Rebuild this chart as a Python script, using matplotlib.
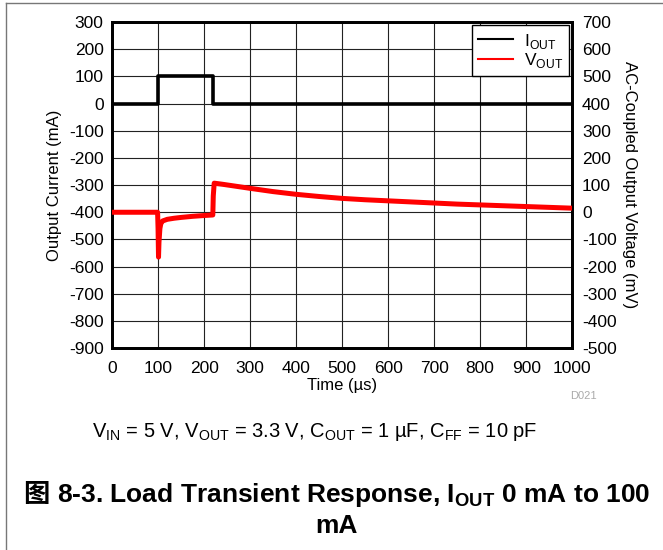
import matplotlib
matplotlib.use('Agg')
import matplotlib.pyplot as plt
from matplotlib.lines import Line2D

plt.rcParams['font.family'] = ['Liberation Sans', 'Noto Sans CJK SC']
plt.rcParams['mathtext.fontset'] = 'custom'
plt.rcParams['mathtext.rm'] = 'Liberation Sans'
plt.rcParams['mathtext.bf'] = 'Liberation Sans:bold'
plt.rcParams['axes.unicode_minus'] = False

# Output current step (mA)
t_iout = [0, 100, 100, 220, 220, 1000]
iout = [0, 0, 100, 100, 0, 0]

# AC-coupled output voltage (mV)
t_vout = [0, 99, 100, 101, 102, 104, 106, 110, 120, 135, 150, 175, 200, 219,
          220, 222, 240, 260, 300, 350, 400, 450, 500, 550, 600, 650, 700,
          750, 800, 850, 900, 950, 1000]
vout = [0, 0, -60, -165, -110, -60, -42, -32, -26, -22, -19, -15, -12, -10,
        60, 107, 103, 98, 88, 76, 66, 58, 51, 46, 42, 38, 34,
        30, 27, 24, 21, 18, 15]

xticks = list(range(0, 1001, 100))
left_ticks = list(range(-900, 301, 100))
right_ticks = list(range(-500, 701, 100))

fig = plt.figure(figsize=(6.63, 5.5), dpi=100)
ax = fig.add_axes([0.169, 0.367, 0.694, 0.593])
ax2 = ax.twinx()

ax.plot(t_iout, iout, color='black', lw=2.6, zorder=3)
ax2.plot(t_vout, vout, color='red', lw=3.6, zorder=3)

ax.set_xlim(0, 1000)
ax.set_ylim(-900, 300)
ax2.set_ylim(-500, 700)
ax.set_xticks(xticks)
ax.set_yticks(left_ticks)
ax2.set_yticks(right_ticks)
ax.grid(True, color='#222222', lw=0.8)
ax.set_axisbelow(True)

for a in (ax, ax2):
    a.tick_params(length=0, labelsize=12.5, pad=6)
    for s in a.spines.values():
        s.set_linewidth(2)
ax.tick_params(axis='x', pad=9)
ax2.tick_params(axis='y', pad=7)

ax.set_xlabel('Time (µs)', fontsize=12, labelpad=2)
ax.set_ylabel('Output Current (mA)', fontsize=12, labelpad=5)
ax2.set_ylabel('AC-Coupled Output Voltage (mV)', fontsize=12, rotation=270, labelpad=15)

handles = [Line2D([], [], color='black', lw=1.5), Line2D([], [], color='red', lw=1.5)]
leg = ax2.legend(handles, ['I$_{\\mathrm{OUT}}$', 'V$_{\\mathrm{OUT}}$'], loc='upper right',
                 fontsize=12.5, fancybox=False, framealpha=1, edgecolor='black',
                 handlelength=2.0, handletextpad=0.6, borderaxespad=0.2, labelspacing=0.05,
                 borderpad=0.35)
leg.get_frame().set_linewidth(1)

fig.text(0.88, 0.275, 'D021', color='#aaaaaa', fontsize=8, ha='center')

fig.text(0.475, 0.215,
         'V$_{\\mathrm{IN}}$ = 5 V, V$_{\\mathrm{OUT}}$ = 3.3 V, C$_{\\mathrm{OUT}}$ = 1 µF, C$_{\\mathrm{FF}}$ = 10 pF',
         fontsize=14.5, ha='center', va='center')

title = fig.text(0.533, 0.1, '8-3. Load Transient Response, I$_{\\mathbf{OUT}}$ 0 mA to 100',
                 fontsize=19, fontweight='bold', ha='center', va='center')
ax.annotate('图', xy=(0, 0.5), xycoords=title, xytext=(-5, 0), textcoords='offset points',
            fontsize=19, fontweight='bold', family='Noto Sans CJK SC',
            ha='right', va='center', annotation_clip=False)
fig.text(0.507, 0.043, 'mA', fontsize=19, fontweight='bold', ha='center', va='center')

# outer frame of the figure box
fig.add_artist(Line2D([0.009, 0.009], [0, 0.995], transform=fig.transFigure, color='#777777', lw=1))
fig.add_artist(Line2D([0.009, 1], [0.995, 0.995], transform=fig.transFigure, color='#777777', lw=1))

fig.savefig('out.png', dpi=100)
